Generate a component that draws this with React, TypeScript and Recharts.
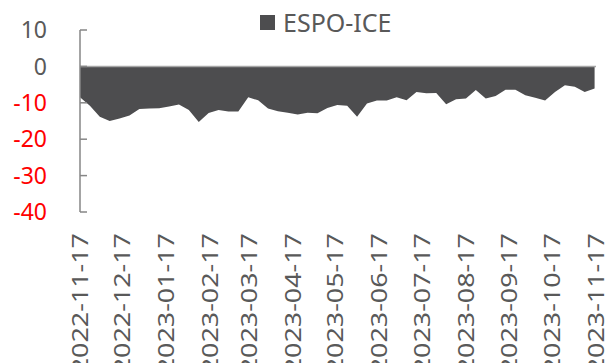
import { Area, AreaChart, Legend, ReferenceLine, XAxis, YAxis } from 'recharts'

const dates = [
  '2022-11-17', '2022-11-24', '2022-12-01', '2022-12-08', '2022-12-15', '2022-12-22', '2022-12-29',
  '2023-01-05', '2023-01-12', '2023-01-19', '2023-01-26', '2023-02-02', '2023-02-09', '2023-02-16',
  '2023-02-23', '2023-03-02', '2023-03-09', '2023-03-16', '2023-03-23', '2023-03-30', '2023-04-06',
  '2023-04-13', '2023-04-20', '2023-04-27', '2023-05-04', '2023-05-11', '2023-05-18', '2023-05-25',
  '2023-06-01', '2023-06-08', '2023-06-15', '2023-06-22', '2023-06-29', '2023-07-06', '2023-07-13',
  '2023-07-20', '2023-07-27', '2023-08-03', '2023-08-10', '2023-08-17', '2023-08-24', '2023-08-31',
  '2023-09-07', '2023-09-14', '2023-09-21', '2023-09-28', '2023-10-05', '2023-10-12', '2023-10-19',
  '2023-10-26', '2023-11-02', '2023-11-09', '2023-11-16',
]

const espoIce = [
  -8.5, -10.8, -13.8, -15.0, -14.3, -13.5, -11.7,
  -11.6, -11.5, -11.0, -10.5, -12.0, -15.3, -12.8,
  -12.0, -12.4, -12.4, -8.5, -9.3, -11.6, -12.3,
  -12.7, -13.2, -12.7, -12.9, -11.4, -10.6, -10.8,
  -13.8, -10.2, -9.4, -9.4, -8.5, -9.3, -7.0,
  -7.4, -7.3, -10.4, -9.0, -8.8, -6.5, -8.8,
  -8.1, -6.4, -6.4, -7.9, -8.6, -9.4, -7.0,
  -5.2, -5.6, -7.0, -6.1,
]

const xTickLabels = [
  '2022-11-17', '2022-12-17', '2023-01-17', '2023-02-17', '2023-03-17', '2023-04-17', '2023-05-17',
  '2023-06-17', '2023-07-17', '2023-08-17', '2023-09-17', '2023-10-17', '2023-11-17',
]

const yTicks = [-40, -30, -20, -10, 0, 10]

const toTs = (s: string) => Date.UTC(+s.slice(0, 4), +s.slice(5, 7) - 1, +s.slice(8, 10))
const fmtTs = (t: number) => new Date(t).toISOString().slice(0, 10)

const data = dates.map((d, i) => ({ t: toTs(d), v: espoIce[i] }))
const xTicks = xTickLabels.map(toTs)

const FONT = '"Noto Sans", "Open Sans", sans-serif'
const TEXT = '#595959'
const AXIS = '#868686'
const FILL = '#4d4d4f'

function YTick(props: any) {
  const { x, y, payload } = props
  const v = payload.value as number
  return (
    <g>
      <line x1={x + 33} y1={y} x2={x + 40} y2={y} stroke={AXIS} strokeWidth={1.5} />
      <text
        x={x}
        y={y}
        dy="0.36em"
        textAnchor="end"
        fontFamily={FONT}
        fontSize={23}
        fill={v < 0 ? '#ff0000' : TEXT}
      >
        {v}
      </text>
    </g>
  )
}

function XTick(props: any) {
  const { x, y, payload } = props
  return (
    <text
      transform={`translate(${x},${y}) rotate(-90) scale(1.28,1)`}
      x={0}
      y={0}
      dy="0.36em"
      textAnchor="end"
      fontFamily={FONT}
      fontSize={21}
      fill={TEXT}
    >
      {fmtTs(payload.value)}
    </text>
  )
}

function LegendBox() {
  return (
    <div style={{ display: 'flex', alignItems: 'center', fontFamily: FONT, fontSize: 25, color: TEXT, lineHeight: '26px' }}>
      <span style={{ display: 'inline-block', width: 15, height: 15, background: FILL, marginRight: 8 }} />
      <span>ESPO-ICE</span>
    </div>
  )
}

export default function App() {
  return (
    <div style={{ position: 'fixed', left: 0, top: 0, width: 605, height: 363, background: '#fff' }}>
      <AreaChart width={605} height={363} data={data} margin={{ top: 30, right: 9, bottom: 0, left: 0 }}>
        <Legend
          layout="horizontal"
          verticalAlign="middle"
          align="center"
          wrapperStyle={{ left: 260, top: 9, width: 200 }}
          content={() => <LegendBox />}
        />
        <XAxis
          dataKey="t"
          type="number"
          domain={[xTicks[0], xTicks[xTicks.length - 1]]}
          ticks={xTicks}
          interval={0}
          height={151}
          axisLine={false}
          tickLine={false}
          tickSize={0}
          tickMargin={21}
          tick={<XTick />}
        />
        <YAxis
          type="number"
          domain={[-40, 10]}
          ticks={yTicks}
          interval={0}
          width={80}
          axisLine={{ stroke: AXIS, strokeWidth: 1.5 }}
          tickLine={false}
          tickSize={0}
          tickMargin={33}
          tick={<YTick />}
        />
        <Area
          type="linear"
          dataKey="v"
          name="ESPO-ICE"
          stroke="none"
          fill={FILL}
          fillOpacity={1}
          isAnimationActive={false}
        />
        <ReferenceLine y={0} stroke="#a6a6a6" strokeWidth={1.5} />
      </AreaChart>
    </div>
  )
}
